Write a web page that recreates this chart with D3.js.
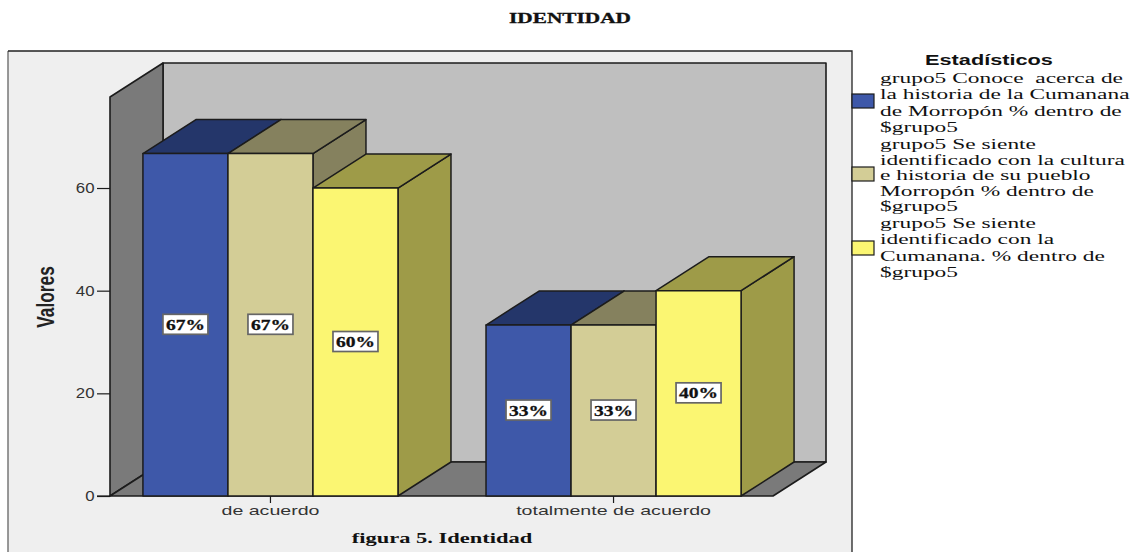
<!DOCTYPE html>
<html>
<head>
<meta charset="utf-8">
<script src="https://cdn.jsdelivr.net/npm/d3@7"></script>
<style>
  html, body { margin: 0; padding: 0; background: #fff; overflow: hidden; }
  svg { display: block; }
  text { white-space: pre; }
</style>
</head>
<body>
<div id="chart"></div>
<script>
const categories = ["de acuerdo", "totalmente de acuerdo"]
const seriesNames = ["conoce", "cultura", "cumanana"]
const conoce = [66.7, 33.3]
const cultura = [66.7, 33.3]
const cumanana = [60, 40]
const yTicks = [0, 20, 40, 60]
const legendLines = [
    ["grupo5 Conoce  acerca de", "la historia de la Cumanana", "de Morropón % dentro de", "$grupo5"],
    ["grupo5 Se siente", "identificado con la cultura", "e historia de su pueblo", "Morropón % dentro de", "$grupo5"],
    ["grupo5 Se siente", "identificado con la", "Cumanana. % dentro de", "$grupo5"]
]

const width = 1136
const height = 553
const plot = { left: 110, right: 774, top: 97, bottom: 496 }
const depth = { x: 53, y: -34 }

const front = ["#3e58a9", "#d3cd96", "#fbf672"]
const shade = ["#24366a", "#85815e", "#9e9b48"]
const edge = "#1c1c1c"

const svg = d3.select("#chart").append("svg").attr("width", width).attr("height", height)

// stretches a text horizontally, the source image was resized wide
const stretch = (sel, k) => sel.each(function() {
    const t = d3.select(this)
    t.attr("textLength", this.getComputedTextLength() * k).attr("lengthAdjust", "spacingAndGlyphs")
})

const x = d3.scaleBand().domain(categories).range([plot.left, plot.right]).paddingInner(0.2566).paddingOuter(0.096)
const xInner = d3.scaleBand().domain(seriesNames).range([0, x.bandwidth()])
const y = d3.scaleLinear().domain([0, 77.73]).range([plot.bottom, plot.top])

// panel
svg.append("rect").attr("x", 8).attr("y", 51).attr("width", 844).attr("height", 501)
    .attr("fill", "#efefef").attr("stroke", "none")
svg.append("path").attr("d", "M8,552V51").attr("stroke", "#777").attr("stroke-width", 1.5).attr("fill", "none")
svg.append("path").attr("d", "M8,51H852V552").attr("stroke", "#222").attr("stroke-width", 1.3).attr("fill", "none")

const pts = a => a.map(p => p.join(",")).join(" ")

// walls and floor
const x0 = plot.left, x1 = plot.right - 1, yb = plot.bottom, yt = plot.top
const walls = svg.append("g").attr("stroke", edge).attr("stroke-width", 1.6).attr("stroke-linejoin", "round")
walls.append("polygon").attr("fill", "#bfbfbf")
    .attr("points", pts([[x0 + depth.x, yb + depth.y], [x0 + depth.x, yt + depth.y], [x1 + depth.x, yt + depth.y], [x1 + depth.x, yb + depth.y]]))
walls.append("polygon").attr("fill", "#7a7a7a")
    .attr("points", pts([[x0, yb], [x0, yt], [x0 + depth.x, yt + depth.y], [x0 + depth.x, yb + depth.y]]))
walls.append("polygon").attr("fill", "#7a7a7a")
    .attr("points", pts([[x0, yb], [x0 + depth.x, yb + depth.y], [x1 + depth.x, yb + depth.y], [x1, yb]]))

// bars
const rows = categories.flatMap((c, i) => [conoce[i], cultura[i], cumanana[i]].map((v, s) => ({ c, v, s })))
const bars = svg.append("g").attr("stroke", edge).attr("stroke-width", 1.5).attr("stroke-linejoin", "round")
    .selectAll("g").data(rows).join("g")

const barX = d => x(d.c) + xInner(seriesNames[d.s])
const w = xInner.bandwidth()

bars.append("polygon").attr("fill", d => shade[d.s])
    .attr("points", d => pts([[barX(d) + w, y(d.v)], [barX(d) + w + depth.x, y(d.v) + depth.y], [barX(d) + w + depth.x, y(0) + depth.y], [barX(d) + w, y(0)]]))
bars.append("polygon").attr("fill", d => shade[d.s])
    .attr("points", d => pts([[barX(d), y(d.v)], [barX(d) + depth.x, y(d.v) + depth.y], [barX(d) + w + depth.x, y(d.v) + depth.y], [barX(d) + w, y(d.v)]]))
bars.append("rect").attr("fill", d => front[d.s])
    .attr("x", barX).attr("y", d => y(d.v)).attr("width", w).attr("height", d => y(0) - y(d.v))

// value labels
const labels = svg.append("g").selectAll("g").data(rows).join("g")
    .attr("transform", d => `translate(${barX(d) + w / 2}, ${y(d.v / 2)})`)
labels.append("rect").attr("x", -22.5).attr("y", -10.5).attr("width", 45).attr("height", 20)
    .attr("fill", "#fff").attr("stroke", "#666").attr("stroke-width", 1.7)
labels.append("text").text(d => Math.round(d.v) + "%")
    .attr("text-anchor", "middle").attr("y", 5)
    .attr("font-family", "Liberation Serif").attr("font-weight", "bold").attr("font-size", 15).attr("fill", "#111")
    .attr("stroke", "#111").attr("stroke-width", 0.3)
    .call(stretch, 1.3)

// axes
const axisY = d3.axisLeft(y).tickValues(yTicks).tickSize(13).tickSizeOuter(0)
const yGroup = svg.append("g").attr("transform", `translate(${plot.left}, 0)`).call(axisY)
yGroup.select(".domain").remove()
yGroup.selectAll("line").attr("stroke", edge).attr("stroke-width", 1.2)
yGroup.selectAll("text").attr("x", -15.5).attr("font-family", "Liberation Sans").attr("font-size", 14)
    .attr("fill", "#333").call(stretch, 1.2)

const axisX = d3.axisBottom(x).tickSize(7).tickSizeOuter(0)
const xGroup = svg.append("g").attr("transform", `translate(0, ${plot.bottom})`).call(axisX)
xGroup.select(".domain").remove()
xGroup.selectAll("line").attr("stroke", edge).attr("stroke-width", 1.2)
xGroup.selectAll("text").attr("y", 9).attr("font-family", "Liberation Sans").attr("font-size", 13.5)
    .attr("fill", "#333").call(stretch, 1.45)

svg.append("line").attr("x1", plot.left - 13).attr("x2", plot.left).attr("y1", plot.bottom).attr("y2", plot.bottom)
    .attr("stroke", edge).attr("stroke-width", 1.2)

// titles
svg.append("text").text("IDENTIDAD").attr("x", 570).attr("y", 23).attr("text-anchor", "middle")
    .attr("font-family", "Liberation Serif").attr("font-weight", "bold").attr("font-size", 14.5).attr("fill", "#111")
    .attr("stroke", "#111").attr("stroke-width", 0.3)
    .call(stretch, 1.47)
svg.append("text").text("figura 5. Identidad").attr("x", 442).attr("y", 543).attr("text-anchor", "middle")
    .attr("font-family", "Liberation Serif").attr("font-weight", "bold").attr("font-size", 15).attr("fill", "#111")
    .call(stretch, 1.5)
svg.append("text").text("Valores").attr("transform", "translate(54, 297) rotate(-90)").attr("text-anchor", "middle")
    .attr("font-family", "Liberation Sans").attr("font-weight", "bold").attr("font-size", 24).attr("fill", "#222")
    .call(stretch, 0.72)

// legend
svg.append("text").text("Estadísticos").attr("x", 989).attr("y", 65).attr("text-anchor", "middle")
    .attr("font-family", "Liberation Sans").attr("font-weight", "bold").attr("font-size", 15.5).attr("fill", "#111")
    .call(stretch, 1.4)

const legendRowH = [16.25, 15.5, 16.25]
const legendStart = [83, 149, 228]
const swatchY = [94, 167, 241]
legendLines.forEach((lines, s) => {
    svg.append("rect").attr("x", 852).attr("y", swatchY[s]).attr("width", 22).attr("height", 14)
        .attr("fill", front[s]).attr("stroke", edge).attr("stroke-width", 1.2)
    svg.append("g").selectAll("text").data(lines).join("text")
        .text(d => d)
        .attr("x", 880)
        .attr("y", (d, i) => legendStart[s] + i * legendRowH[s])
        .attr("font-family", "Liberation Serif").attr("font-size", 15).attr("fill", "#111")
        .call(stretch, 1.56)
})
</script>
</body>
</html>
